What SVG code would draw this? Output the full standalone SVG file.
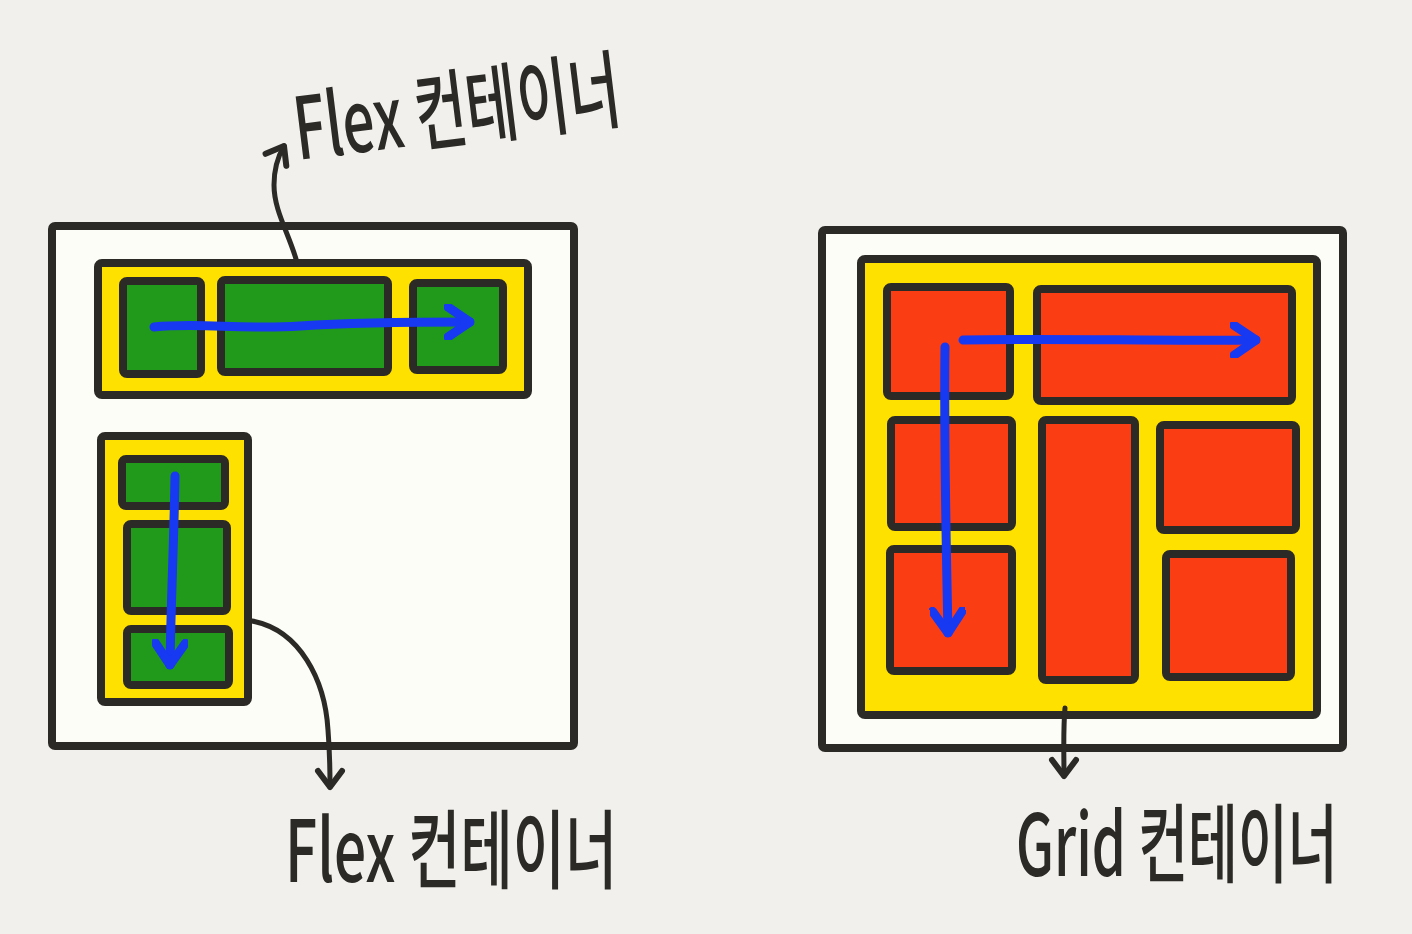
<svg xmlns="http://www.w3.org/2000/svg" width="1412" height="934" viewBox="0 0 1412 934">
<defs>
<style>
.bg{fill:#f1f0ec}
.outer{fill:#fdfdf8;stroke:#2b2a26;stroke-width:8;stroke-linejoin:round}
.cont{fill:#ffe100;stroke:#2b2a26;stroke-width:8;stroke-linejoin:round}
.g{fill:#219a1b;stroke:#2b2a26;stroke-width:8;stroke-linejoin:round}
.r{fill:#fb3d14;stroke:#2b2a26;stroke-width:8;stroke-linejoin:round}
.blue{fill:none;stroke:#1739f2;stroke-width:9;stroke-linecap:round;stroke-linejoin:round}
.lead{fill:none;stroke:#2b2a26;stroke-width:5;stroke-linecap:round}
.lbl{font-family:"Noto Sans CJK KR","Noto Sans",sans-serif;font-weight:500;font-size:86px;fill:#2b2a26}
</style>
<marker id="ab" viewBox="-26 -18 30 36" markerWidth="30" markerHeight="36" refX="0" refY="0" orient="auto" markerUnits="userSpaceOnUse">
<path d="M-22,-15 L0,0 L-22,15" fill="none" stroke="#1739f2" stroke-width="9" stroke-linecap="round" stroke-linejoin="round"/>
</marker>
<marker id="ak" viewBox="-22 -16 26 32" markerWidth="26" markerHeight="32" refX="0" refY="0" orient="auto" markerUnits="userSpaceOnUse">
<path d="M-16,-12 L0,0 L-16,12" fill="none" stroke="#2b2a26" stroke-width="6" stroke-linecap="round" stroke-linejoin="round"/>
</marker>
</defs>
<rect class="bg" x="0" y="0" width="1412" height="934"/>

<g id="flex-page">
<rect class="outer" x="52" y="226" width="522" height="520" rx="3"/>
</g>
<g id="flex-row-container">
<rect class="cont" x="98" y="263" width="430" height="132" rx="4"/>
</g>
<g id="flex-row-item-1"><rect class="g" x="123" y="281" width="78" height="93" rx="4"/></g>
<g id="flex-row-item-2"><rect class="g" x="221" y="280" width="167" height="92" rx="4"/></g>
<g id="flex-row-item-3"><rect class="g" x="413" y="283" width="90" height="87" rx="4"/></g>

<g id="flex-col-container">
<rect class="cont" x="101" y="436" width="147" height="266" rx="4"/>
</g>
<g id="flex-col-item-1"><rect class="g" x="122" y="459" width="103" height="47" rx="4"/></g>
<g id="flex-col-item-2"><rect class="g" x="127" y="524" width="100" height="87" rx="4"/></g>
<g id="flex-col-item-3"><rect class="g" x="127" y="629" width="102" height="56" rx="4"/></g>

<g id="grid-page">
<rect class="outer" x="822" y="230" width="521" height="518" rx="3"/>
</g>
<g id="grid-container">
<rect class="cont" x="861" y="259" width="456" height="456" rx="4"/>
</g>
<g id="grid-item-a"><rect class="r" x="887" y="287" width="123" height="109" rx="4"/></g>
<g id="grid-item-b"><rect class="r" x="1037" y="289" width="255" height="112" rx="4"/></g>
<g id="grid-item-c"><rect class="r" x="891" y="420" width="121" height="107" rx="4"/></g>
<g id="grid-item-d"><rect class="r" x="1042" y="420" width="93" height="260" rx="4"/></g>
<g id="grid-item-e"><rect class="r" x="1160" y="425" width="136" height="105" rx="4"/></g>
<g id="grid-item-f"><rect class="r" x="890" y="549" width="122" height="122" rx="4"/></g>
<g id="grid-item-g"><rect class="r" x="1166" y="554" width="125" height="123" rx="4"/></g>

<g id="connectors">
<path class="blue" d="M154,327 C200,322 240,330 300,326 C360,322 420,322 470,322" marker-end="url(#ab)"/>
<path class="blue" d="M175,476 C174,540 171,600 170,665" marker-end="url(#ab)"/>
<path class="blue" d="M963,340 C1050,338 1150,341 1256,340" marker-end="url(#ab)"/>
<path class="blue" d="M945,347 C944,420 946,540 948,633" marker-end="url(#ab)"/>
<path class="lead" d="M296,259 C288,232 274,210 274,185 C274,170 277,158 284,146" marker-end="url(#ak)"/>
<path class="lead" d="M252,621 C300,630 325,680 328,730 C330,755 330,770 330,787" marker-end="url(#ak)"/>
<path class="lead" d="M1065,708 C1063,730 1064,755 1064,776" marker-end="url(#ak)"/>
</g>

<g id="label-flex-top">
<text class="lbl" transform="translate(298,160) rotate(-7) scale(0.55,1)" x="0" y="0" textLength="596" lengthAdjust="spacingAndGlyphs">Flex 컨테이너</text>
</g>
<g id="label-flex-bottom">
<text class="lbl" transform="translate(285,882) scale(0.55,1)" x="0" y="0" textLength="604" lengthAdjust="spacingAndGlyphs">Flex 컨테이너</text>
</g>
<g id="label-grid">
<text class="lbl" transform="translate(1016,876) scale(0.55,1)" x="0" y="0" textLength="585" lengthAdjust="spacingAndGlyphs">Grid 컨테이너</text>
</g>
</svg>
